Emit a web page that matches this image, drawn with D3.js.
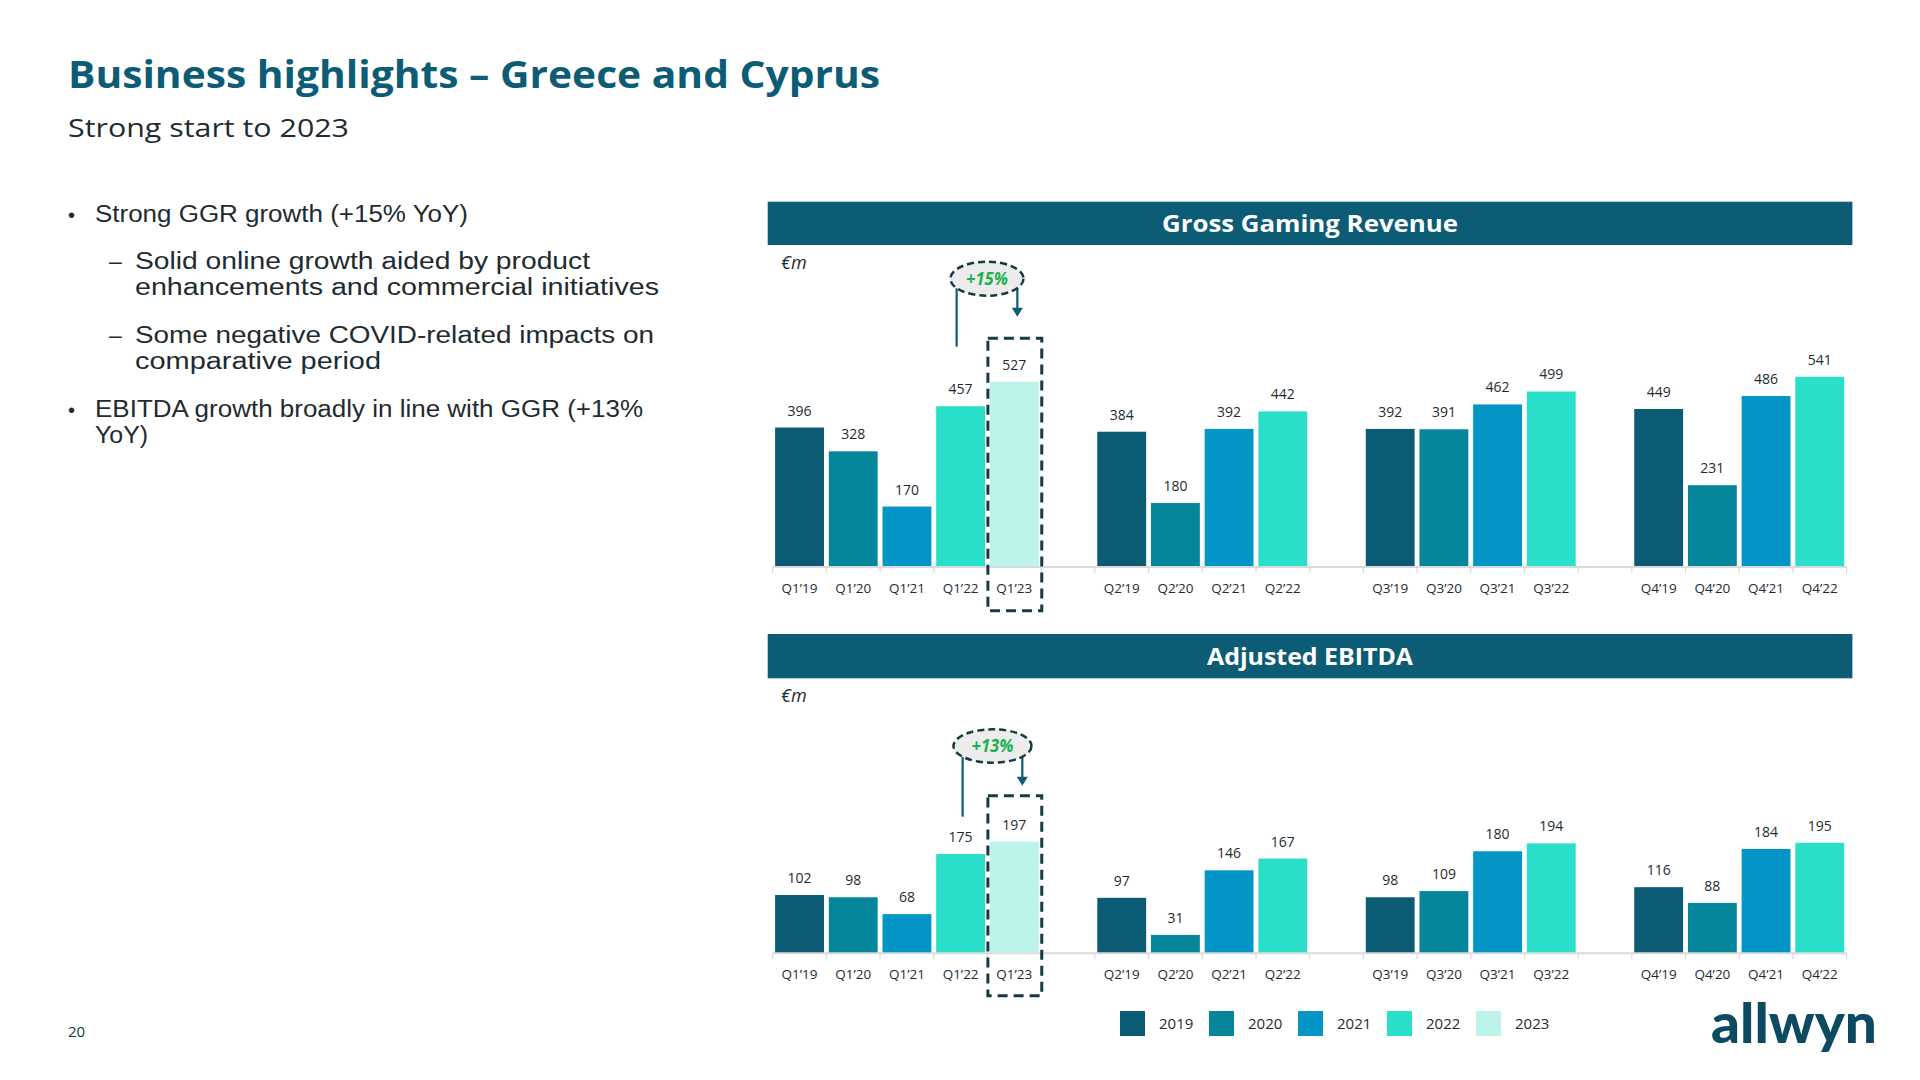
<!DOCTYPE html>
<html><head><meta charset="utf-8">
<script src="https://cdn.jsdelivr.net/npm/d3@7"></script>
<style>
body{margin:0;background:#fff}
svg{display:block}
text{font-family:'Open Sans',sans-serif}
</style>
</head><body>
<svg id="c" width="1920" height="1080"></svg>
<script>
// ---------- DATA ----------
const categories = ["Q1’19","Q1’20","Q1’21","Q1’22","Q1’23",
                    "Q2’19","Q2’20","Q2’21","Q2’22",
                    "Q3’19","Q3’20","Q3’21","Q3’22",
                    "Q4’19","Q4’20","Q4’21","Q4’22"];
const ggrValues    = [396,328,170,457,527, 384,180,392,442, 392,391,462,499, 449,231,486,541];
const ebitdaValues = [102,98,68,175,197,   97,31,146,167,   98,109,180,194,   116,88,184,195];
const legendYears  = ["2019","2020","2021","2022","2023"];
const yearColors   = ["#0b5b75","#06869a","#0295c6","#2adfca","#bcf4ec"];
const growthLabels = ["+15%","+13%"];
const chartTitles  = ["Gross Gaming Revenue","Adjusted EBITDA"];
const highlighted  = ["Q1’22","Q1’23"];

const pageTitle = "Business highlights – Greece and Cyprus";
const pageSubtitle = "Strong start to 2023";

// ---------- SETUP ----------
const svg = d3.select("#c");
const TEAL = "#0d5c76", TEXT = "#1e2b31", DARK = "#173a42";
const BODY_FONT = "'Liberation Sans', Arial, sans-serif";
const colorOf = d3.scaleOrdinal().domain(legendYears).range(yearColors);
const yearOf = c => "20" + c.slice(-2);

// slot domain with gaps between quarter groups
const slots = [];
categories.forEach((c,i) => {
  if (i > 0 && c.slice(0,2) !== categories[i-1].slice(0,2)) slots.push("gap" + i);
  slots.push(c);
});

function fitText(sel, w){ sel.attr("textLength", w).attr("lengthAdjust","spacingAndGlyphs"); return sel; }

// ---------- LEFT TEXT ----------
fitText(svg.append("text").attr("x",68).attr("y",88).attr("font-size",37).attr("font-weight",700)
  .attr("fill",TEAL).text(pageTitle), 812);
fitText(svg.append("text").attr("x",68).attr("y",137).attr("font-size",25).attr("fill",TEXT)
  .text(pageSubtitle), 281);

const bullets = [
  {lvl:0, lines:[["Strong GGR growth (+15% YoY)",373]], y:[222]},
  {lvl:1, lines:[["Solid online growth aided by product",455],["enhancements and commercial initiatives",524]], y:[269,295]},
  {lvl:1, lines:[["Some negative COVID-related impacts on",519],["comparative period",246]], y:[343,369]},
  {lvl:0, lines:[["EBITDA growth broadly in line with GGR (+13%",548],["YoY)",53]], y:[417,443]}
];
bullets.forEach(b => {
  const tx = b.lvl ? 135 : 95;
  svg.append("text").attr("x", b.lvl ? 109 : 68).attr("y", b.y[0]).attr("font-size", b.lvl?23:20)
    .style("font-family",BODY_FONT).attr("fill",TEXT).text(b.lvl ? "–" : "•");
  b.lines.forEach((l,i) => {
    fitText(svg.append("text").attr("x",tx).attr("y",b.y[i]).attr("font-size",23)
      .style("font-family",BODY_FONT).attr("fill",TEXT).text(l[0]), l[1]);
  });
});

// ---------- CHARTS ----------
const X0 = 772.7, X1 = 1846.6, HX = 767.7, HW = 1084.7;
const charts = [
  {values:ggrValues, title:chartTitles[0], titleW:296, headerY:201.7, headerH:43.3, baseline:566, domainMax:600, pxPerUnit:0.3497,
   annot:{lx:-4, rx:3, cy:278.7, erx:36.5, ery:17, lineBottom:346.7, tip:316.7, boxTop:338.3, boxBottom:610.7, label:growthLabels[0]}},
  {values:ebitdaValues, title:chartTitles[1], titleW:206, headerY:634, headerH:44.3, baseline:952.3, domainMax:200, pxPerUnit:0.5615,
   annot:{lx:2, rx:8, cy:746, erx:39, ery:16.7, lineBottom:816.7, tip:785.7, boxTop:795.7, boxBottom:995.7, label:growthLabels[1]}}
];

charts.forEach(ch => {
  const g = svg.append("g");
  const x = d3.scaleBand().domain(slots).range([X0, X1]).paddingInner(0.09).paddingOuter(0.045);
  const y = d3.scaleLinear().domain([0, ch.domainMax]).range([ch.baseline, ch.baseline - ch.domainMax*ch.pxPerUnit]);
  const data = categories.map((c,i) => ({c, v: ch.values[i], year: yearOf(c)}));

  // header
  g.append("rect").attr("x",HX).attr("y",ch.headerY).attr("width",HW).attr("height",ch.headerH).attr("fill",TEAL);
  fitText(g.append("text").attr("x",HX+HW/2 - ch.titleW/2).attr("y",ch.headerY+ch.headerH/2).attr("dy","0.35em")
    .attr("fill","#fff").attr("font-size",24).attr("font-weight",700).text(ch.title), ch.titleW);
  g.append("text").attr("x",781).attr("y",ch.headerY+ch.headerH+24).attr("font-size",18)
    .attr("font-style","italic").attr("fill",TEXT).text("€m");

  // axis line + boundary ticks
  g.append("line").attr("x1",X0).attr("x2",X1).attr("y1",y(0)+1).attr("y2",y(0)+1)
    .attr("stroke","#dadada").attr("stroke-width",2);
  d3.range(slots.length+1).forEach(i => {
    const bx = X0 + i*x.step();
    g.append("line").attr("x1",bx).attr("x2",bx).attr("y1",y(0)+1).attr("y2",y(0)+7)
      .attr("stroke","#dadada").attr("stroke-width",1.2);
  });

  // bars
  g.selectAll(".bar").data(data).join("rect")
    .attr("x", d => x(d.c)).attr("width", x.bandwidth())
    .attr("y", d => y(d.v)).attr("height", d => y(0) - y(d.v))
    .attr("fill", d => colorOf(d.year));
  // value labels
  g.selectAll(".val").data(data).join("text")
    .attr("x", d => x(d.c) + x.bandwidth()/2).attr("y", d => y(d.v) - 12)
    .attr("text-anchor","middle").attr("font-size",14).attr("fill",TEXT).text(d => d.v);
  // category labels
  g.selectAll(".cat").data(data).join("text")
    .attr("x", d => x(d.c) + x.bandwidth()/2).attr("y", y(0) + 27)
    .attr("text-anchor","middle").attr("font-size",13.5).attr("fill",TEXT).text(d => d.c);

  // annotation
  const a = ch.annot;
  const lx = x(highlighted[0]) + x.bandwidth()/2 + a.lx;
  const rx = x(highlighted[1]) + x.bandwidth()/2 + a.rx;
  const cx = (lx + rx)/2;
  const edge = px => a.cy + a.ery*Math.sqrt(Math.max(0, 1 - Math.pow((px-cx)/a.erx,2)));
  g.append("line").attr("x1",lx).attr("x2",lx).attr("y1",a.lineBottom).attr("y2",edge(lx))
    .attr("stroke",TEAL).attr("stroke-width",2.2);
  g.append("line").attr("x1",rx).attr("x2",rx).attr("y1",edge(rx)).attr("y2",a.tip-8)
    .attr("stroke",TEAL).attr("stroke-width",2.2);
  g.append("path").attr("d",`M${rx-5.5},${a.tip-9}L${rx+5.5},${a.tip-9}L${rx},${a.tip}Z`).attr("fill",TEAL);
  g.append("ellipse").attr("cx",cx).attr("cy",a.cy).attr("rx",a.erx).attr("ry",a.ery)
    .attr("fill","#ececec").attr("stroke",DARK).attr("stroke-width",2.5).attr("stroke-dasharray","7,4");
  fitText(g.append("text").attr("x",cx-21).attr("y",a.cy).attr("dy","0.35em")
    .attr("font-size",17).attr("font-weight",700).attr("font-style","italic").attr("fill","#1bb04c").text(a.label), 42);
  const bx = x(highlighted[1]);
  g.append("rect").attr("x",bx-2).attr("y",a.boxTop).attr("width",x.bandwidth()+5)
    .attr("height",a.boxBottom-a.boxTop).attr("fill","none").attr("stroke",DARK)
    .attr("stroke-width",3).attr("stroke-dasharray","10,6");
});

// ---------- LEGEND ----------
const lg = svg.append("g");
legendYears.forEach((yr,i) => {
  const lx = 1120 + i*89;
  lg.append("rect").attr("x",lx).attr("y",1011).attr("width",25).attr("height",25).attr("fill",colorOf(yr));
  lg.append("text").attr("x",lx+39).attr("y",1023.5).attr("dy","0.35em").attr("font-size",15).attr("fill",TEXT).text(yr);
});

// ---------- FOOTER ----------
svg.append("text").attr("x",68).attr("y",1037).attr("font-size",15).attr("fill",DARK).text("20");
fitText(svg.append("text").attr("x",1711).attr("y",1043).style("font-family","Lato, sans-serif")
  .attr("font-size",55).attr("font-weight",900).attr("fill","#0b4a60").text("allwyn"), 166);
</script>
</body></html>
